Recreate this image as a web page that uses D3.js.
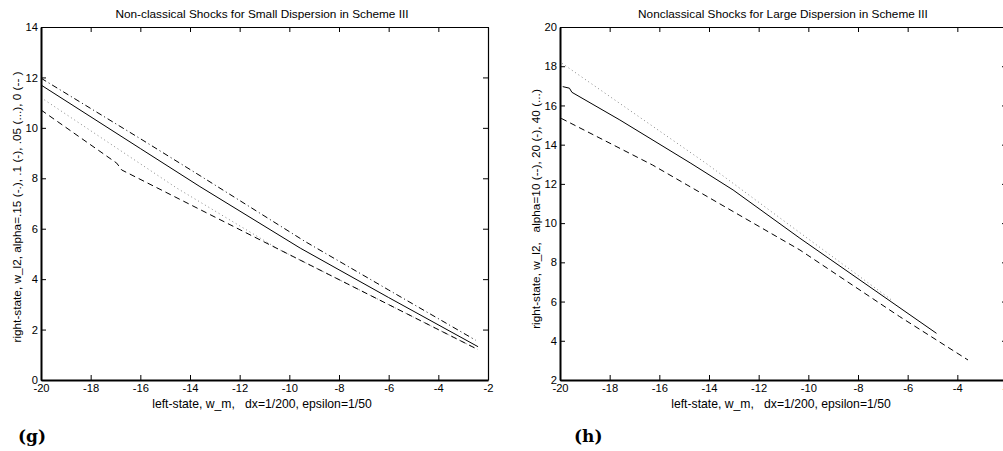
<!DOCTYPE html>
<html>
<head>
<meta charset="utf-8">
<script src="https://cdn.jsdelivr.net/npm/d3@7"></script>
<style>
  html, body { margin: 0; padding: 0; background: #fff; }
  svg { display: block; }
  text { font-family: "Liberation Sans", Arial, Helvetica, sans-serif; fill: #000; }
</style>
</head>
<body>
<svg id="chart" width="1003" height="451"></svg>
<script>
// ---------- data ----------
const xTicks = [-20, -18, -16, -14, -12, -10, -8, -6, -4, -2];
const leftYTicks = [0, 2, 4, 6, 8, 10, 12, 14];
const rightYTicks = [2, 4, 6, 8, 10, 12, 14, 16, 18, 20];

const leftTitle = "Non-classical Shocks for Small Dispersion in Scheme III";
const rightTitle = "Nonclassical Shocks for Large Dispersion in Scheme III";
const xLabel = "left-state, w_m,   dx=1/200, epsilon=1/50";
const leftYLabel = "right-state, w_l2, alpha=.15 (-.), .1 (-), .05 (...), 0 (-- )";
const rightYLabel = "right-state, w_l2,   alpha=10 (--), 20 (-), 40 (...)";
const panelLabels = ["(g)", "(h)"];

// left panel (small dispersion)
const leftDashDotX = [-20, -16, -13.59, -9.36, -6, -2.5];
const leftDashDotY = [11.97, 9.57, 8.10, 5.49, 3.57, 1.58];
const leftSolidX = [-20, -16, -13.6, -9.56, -6, -2.4];
const leftSolidY = [11.7, 9.18, 7.67, 5.23, 3.27, 1.32];
const leftDottedX = [-20, -14.53, -10.4, -6, -2.43];
const leftDottedY = [11.2, 7.61, 5.17, 2.99, 1.22];
const leftDashedX = [-20, -16.95, -16.75, -10.4, -6, -2.43];
const leftDashedY = [10.71, 8.60, 8.33, 5.17, 2.99, 1.22];

// right panel (large dispersion)
const rightDottedX = [-19.92, -14.12, -10.34, -6.65];
const rightDottedY = [18.15, 13.05, 9.51, 6.08];
const rightSolidX = [-19.89, -19.62, -19.52, -17.59, -14.73, -13.03, -10.34, -4.84];
const rightSolidY = [16.96, 16.88, 16.67, 15.26, 13.05, 11.69, 9.23, 4.38];
const rightDashedX = [-19.95, -16.27, -13, -10.34, -6.32, -3.57];
const rightDashedY = [15.34, 12.96, 10.57, 8.63, 5.23, 3.02];

// ---------- drawing ----------
const svg = d3.select("#chart");
const zip = (xs, ys) => xs.map((x, i) => [x, ys[i]]);

const styles = {
  solid:   { dash: null,      color: "#000", width: 1 },
  dashed:  { dash: "6,4",     color: "#000", width: 1 },
  dotted:  { dash: "1,3",     color: "#888", width: 1 },
  dashdot: { dash: "6,3,1,3", color: "#000", width: 1 }
};

function panel(opts) {
  const { x0, x1, y0, y1, yDomain, yTicks, title, titleX, yLabel, yLabelX, series, label, labelX } = opts;
  const x = d3.scaleLinear().domain([-20, -2]).range([x0, x1]);
  const y = d3.scaleLinear().domain(yDomain).range([y0, y1]);
  const g = svg.append("g");
  const fmt = d => String(d);

  // lines
  const line = d3.line().x(d => x(d[0])).y(d => y(d[1]));
  series.forEach(s => {
    const st = styles[s.style];
    g.append("path")
      .attr("d", line(zip(s.x, s.y)))
      .attr("fill", "none")
      .attr("stroke", st.color)
      .attr("stroke-width", st.width)
      .attr("stroke-dasharray", st.dash);
  });

  // axes
  const bottom = g.append("g").attr("transform", `translate(0,${y0})`)
    .call(d3.axisBottom(x).tickValues(xTicks).tickFormat(fmt).tickSizeInner(-5).tickSizeOuter(0).tickPadding(4));
  const left = g.append("g").attr("transform", `translate(${x0},0)`)
    .call(d3.axisLeft(y).tickValues(yTicks).tickFormat(fmt).tickSizeInner(-5).tickSizeOuter(0).tickPadding(3));
  const top = g.append("g").attr("transform", `translate(0,${y1})`)
    .call(d3.axisTop(x).tickValues(xTicks).tickFormat("").tickSizeInner(-5).tickSizeOuter(0));
  const right = g.append("g").attr("transform", `translate(${x1},0)`)
    .call(d3.axisRight(y).tickValues(yTicks).tickFormat("").tickSizeInner(-5).tickSizeOuter(0));

  [bottom, left, top, right].forEach(a => {
    a.selectAll("text").style("font-size", "11.2px").attr("fill", "#000");
    a.selectAll("line").attr("stroke", "#000");
    a.select(".domain").attr("stroke", "#000");
  });
  bottom.select(".domain").attr("stroke-width", 2);
  left.select(".domain").attr("stroke-width", 2);
  top.select(".domain").attr("stroke-width", 1.2);
  right.select(".domain").attr("stroke-width", 1.2);

  // texts
  g.append("text").attr("x", titleX).attr("y", 18).attr("text-anchor", "middle")
    .style("font-size", "11.8px").text(title);
  g.append("text").attr("x", x0 + 221).attr("y", 408).attr("text-anchor", "middle")
    .attr("xml:space", "preserve").style("white-space", "pre")
    .style("font-size", "12.2px").text(xLabel);
  g.append("text").attr("transform", `translate(${yLabelX},${opts.yLabelY}) rotate(-90)`)
    .attr("text-anchor", "middle").attr("xml:space", "preserve").style("white-space", "pre")
    .style("font-size", "11.8px").text(yLabel);
  g.append("text").attr("x", labelX).attr("y", 442)
    .style("font-family", "'DejaVu Serif', 'Liberation Serif', serif").style("font-weight", "bold")
    .style("font-size", "17px").text(label);
}

panel({
  x0: 41, x1: 488, y0: 380, y1: 27, yDomain: [0, 14], yTicks: leftYTicks,
  title: leftTitle, titleX: 262, yLabel: leftYLabel, yLabelX: 21, yLabelY: 207, label: panelLabels[0], labelX: 18,
  series: [
    { x: leftDashDotX, y: leftDashDotY, style: "dashdot" },
    { x: leftSolidX, y: leftSolidY, style: "solid" },
    { x: leftDottedX, y: leftDottedY, style: "dotted" },
    { x: leftDashedX, y: leftDashedY, style: "dashed" }
  ]
});

panel({
  x0: 560, x1: 1007, y0: 380, y1: 27, yDomain: [2, 20], yTicks: rightYTicks,
  title: rightTitle, titleX: 783, yLabel: rightYLabel, yLabelX: 540, yLabelY: 209, label: panelLabels[1], labelX: 574,
  series: [
    { x: rightDottedX, y: rightDottedY, style: "dotted" },
    { x: rightSolidX, y: rightSolidY, style: "solid" },
    { x: rightDashedX, y: rightDashedY, style: "dashed" }
  ]
});
</script>
</body>
</html>
